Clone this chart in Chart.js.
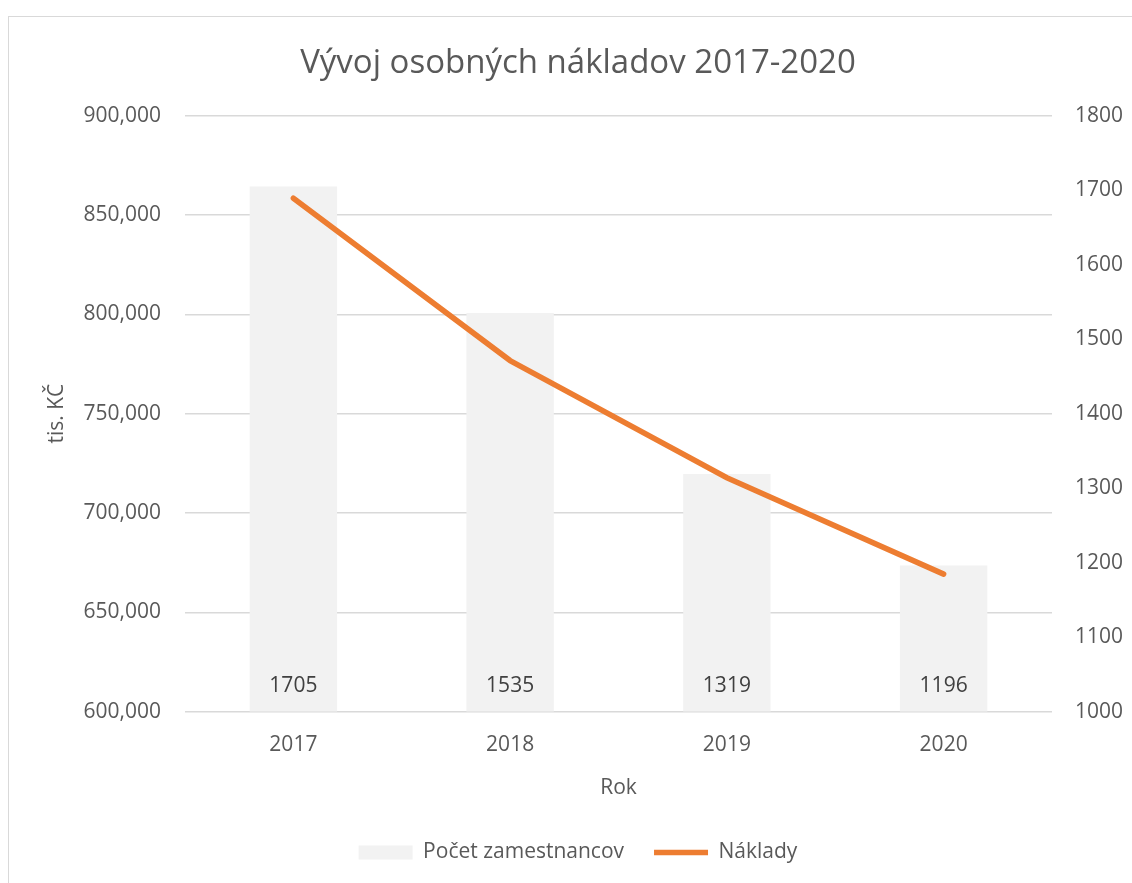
<!DOCTYPE html>
<html>
<head>
<meta charset="utf-8">
<script src="https://cdn.jsdelivr.net/npm/chart.js@4.4.1/dist/chart.umd.min.js"></script>
<style>
  html, body { margin: 0; padding: 0; background: #fff; }
  #wrap { position: relative; width: 1132px; height: 883px; overflow: hidden; }
  #frame { position: absolute; left: 8px; top: 16px; width: 1140px; height: 900px; border: 1px solid #d9d9d9; box-sizing: border-box; }
  canvas { position: absolute; left: 0; top: 0; }
</style>
</head>
<body>
<div id="wrap">
  <div id="frame"></div>
  <canvas id="chart" width="1132" height="883"></canvas>
</div>
<script>
// Data
const years = ['2017', '2018', '2019', '2020']
const employees = [1705, 1535, 1319, 1196]          // Počet zamestnancov (right axis)
const costs = [858400, 776700, 717700, 669200]       // Náklady, tis. KČ (left axis)

const TEXT = '#595959'
const GRID = '#d9d9d9'
const FONT = "'Open Sans', 'Liberation Sans', sans-serif"

// Writes the employee counts at the base of each bar
const baseLabels = {
  id: 'baseLabels',
  afterDatasetsDraw(chart) {
    const meta = chart.getDatasetMeta(0)
    const ctx = chart.ctx
    const bottom = chart.scales.y1.bottom
    ctx.save()
    ctx.fillStyle = '#404040'
    ctx.font = '21px ' + FONT
    ctx.textAlign = 'center'
    ctx.textBaseline = 'middle'
    meta.data.forEach((bar, i) => {
      ctx.fillText(String(employees[i]), bar.x, bottom - 26)
    })
    ctx.restore()
  }
}

const fmt = new Intl.NumberFormat('en-US')

new Chart(document.getElementById('chart'), {
  data: {
    labels: years,
    datasets: [
      {
        type: 'bar',
        label: 'Počet zamestnancov',
        data: employees,
        yAxisID: 'y1',
        backgroundColor: '#f2f2f2',
        borderWidth: 0,
        barPercentage: 0.8,
        categoryPercentage: 0.504,
        pointStyle: 'rect',
        order: 2
      },
      {
        type: 'line',
        label: 'Náklady',
        data: costs,
        yAxisID: 'y',
        borderColor: '#ed7d31',
        backgroundColor: '#ed7d31',
        borderWidth: 5.5,
        borderCapStyle: 'round',
        pointRadius: 0,
        tension: 0,
        pointStyle: 'line',
        order: 1
      }
    ]
  },
  options: {
    responsive: false,
    animation: false,
    layout: { padding: { left: 24, right: 0, top: 0, bottom: 10 } },
    plugins: {
      title: {
        display: true,
        text: 'Vývoj osobných nákladov 2017-2020',
        color: TEXT,
        font: { family: FONT, size: 33, weight: 'normal' },
        padding: { top: 44, bottom: 32 }
      },
      legend: {
        position: 'bottom',
        labels: {
          color: TEXT,
          font: { family: FONT, size: 21 },
          usePointStyle: true,
          pointStyleWidth: 54,
          boxHeight: 14,
          padding: 30,
          sort: (a, b) => a.datasetIndex - b.datasetIndex
        }
      },
      tooltip: { enabled: false }
    },
    scales: {
      x: {
        grid: { display: false },
        border: { display: false },
        ticks: { color: TEXT, font: { family: FONT, size: 21 }, padding: 13 },
        title: {
          display: true,
          text: 'Rok',
          color: TEXT,
          font: { family: FONT, size: 21 },
          padding: { top: 5, bottom: 11 }
        }
      },
      y: {
        position: 'left',
        min: 600000,
        max: 900000,
        grid: { color: GRID, lineWidth: 1.5, drawTicks: false },
        border: { display: false },
        ticks: {
          stepSize: 50000,
          color: TEXT,
          font: { family: FONT, size: 21 },
          padding: 24,
          callback: v => fmt.format(v)
        },
        title: {
          display: true,
          text: 'tis. KČ',
          color: TEXT,
          font: { family: FONT, size: 21 },
          padding: { top: 20, bottom: 0 }
        },
        afterFit: scale => { scale.width = 161 }
      },
      y1: {
        position: 'right',
        min: 1000,
        max: 1800,
        grid: { display: false, drawTicks: false },
        border: { display: false },
        ticks: {
          stepSize: 100,
          color: TEXT,
          font: { family: FONT, size: 21 },
          padding: 23,
          callback: v => String(v)
        },
        afterFit: scale => { scale.width = 80 }
      }
    }
  },
  plugins: [baseLabels]
})
</script>
</body>
</html>
